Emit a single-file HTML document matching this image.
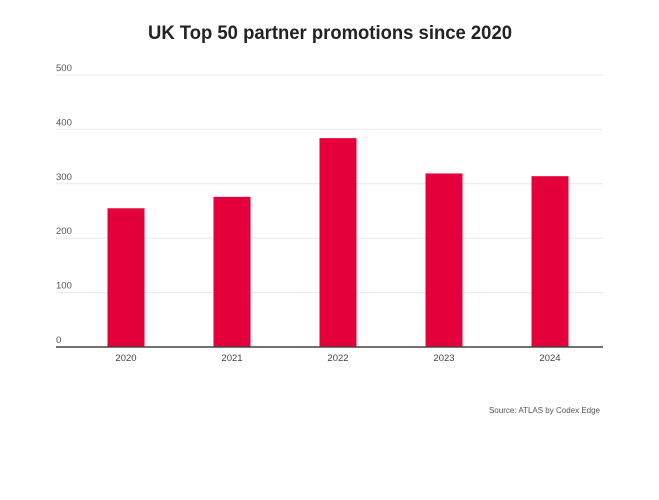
<!DOCTYPE html>
<html><head><meta charset="utf-8"><style>
html,body{margin:0;padding:0;background:#fff;}
svg{display:block;font-family:"Liberation Sans",sans-serif;}
</style></head><body>
<svg id="chart" width="659" height="500" viewBox="0 0 659 500">
<text x="330" y="39" text-anchor="middle" font-size="19" font-weight="bold" fill="#222" textLength="364" lengthAdjust="spacingAndGlyphs">UK  Top 50 partner promotions since 2020</text>
<g id="grid"></g>
<g id="bars"></g>
<line x1="56" x2="603" y1="347" y2="347" stroke="#444" stroke-width="1.5"/>
<g id="xlabels"></g>
<text x="600" y="413" text-anchor="end" font-size="8" fill="#555">Source: ATLAS by Codex Edge</text>
</svg>
<script>
const categories = ["2020","2021","2022","2023","2024"];
const values = [255, 276, 384, 319, 314];
const yTicks = [0,100,200,300,400,500];
const yTickLabels = ["0","100","200","300","400","500"];
const NS = "http://www.w3.org/2000/svg";
const y0 = 347, pxPerUnit = (347-75)/500;
function yScale(v){ return y0 - v*pxPerUnit; }
function xCenter(i){ return 126 + i*106; }
const grid = document.getElementById('grid');
yTicks.forEach((t,i)=>{
  const y = yScale(t);
  if (t !== 0) {
    const l = document.createElementNS(NS,'line');
    
    
    l.setAttribute('x1',56); l.setAttribute('x2',603);
    l.setAttribute('y1',y); l.setAttribute('y2',y);
    l.setAttribute('stroke','#e8e8e8'); l.setAttribute('stroke-width','1');
    grid.appendChild(l);
  }
  const tx = document.createElementNS(NS,'text');
  
  
  tx.setAttribute('x',56); tx.setAttribute('y',y-4);
  tx.setAttribute('font-size','9.5'); tx.setAttribute('fill','#555');
  tx.textContent = yTickLabels[i];
  grid.appendChild(tx);
});
const bars = document.getElementById('bars');
const xl = document.getElementById('xlabels');
categories.forEach((c,i)=>{
  const r = document.createElementNS(NS,'rect');
  
  
  const w = 37;
  r.setAttribute('x', xCenter(i)-w/2);
  r.setAttribute('y', yScale(values[i]));
  r.setAttribute('width', w);
  r.setAttribute('height', y0 - yScale(values[i]));
  r.setAttribute('fill','#e4003b');
  bars.appendChild(r);
  const t = document.createElementNS(NS,'text');
  
  
  t.setAttribute('x', xCenter(i)); t.setAttribute('y', 361);
  t.setAttribute('text-anchor','middle');
  t.setAttribute('font-size','9.5'); t.setAttribute('fill','#444');
  t.textContent = c;
  xl.appendChild(t);
});
</script>
</body></html>
